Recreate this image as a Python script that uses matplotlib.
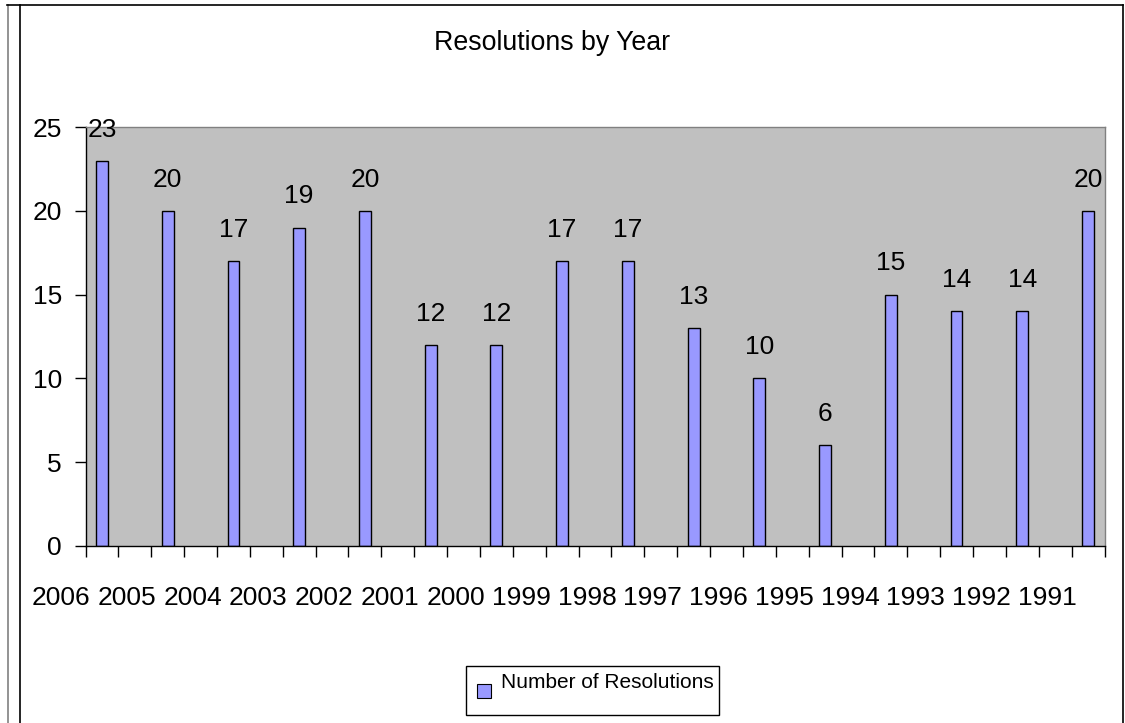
import matplotlib.pyplot as plt
from matplotlib.patches import Rectangle
from matplotlib.lines import Line2D
import matplotlib.transforms as mtransforms

plt.rcParams['font.family'] = ['Liberation Sans', 'DejaVu Sans']

# data (years run backwards, one empty slot between bars)
years = ['2006', '2005', '2004', '2003', '2002', '2001', '2000', '1999',
         '1998', '1997', '1996', '1995', '1994', '1993', '1992', '1991']
resolutions = [23, 20, 17, 19, 20, 12, 12, 17, 17, 13, 10, 6, 15, 14, 14, 20]
y_ticks = [0, 5, 10, 15, 20, 25]

bar_color = '#9999FF'
plot_bg = '#C0C0C0'

W, H = 1125, 723
fig = plt.figure(figsize=(W / 100, H / 100), dpi=100)
ax = fig.add_axes([85.5 / W, 1 - 545.7 / H, 1019 / W, 418.4 / H])
ax.set_facecolor(plot_bg)

n_slots = 2 * len(years) - 1
xpos = [2 * i for i in range(len(years))]
ax.bar(xpos, resolutions, width=0.36, color=bar_color, edgecolor='black', linewidth=1.0)

for x, v in zip(xpos, resolutions):
    ax.annotate(str(v), (x, v), xytext=(0, 22.5), textcoords='offset points',
                ha='center', va='center', fontsize=19)

ax.set_xlim(-0.5, n_slots - 0.5)
ax.set_ylim(0, 25)
ax.set_yticks(y_ticks)
ax.set_xticks([k - 0.5 for k in range(n_slots + 1)])
ax.set_xticklabels([])
ax.tick_params(axis='y', direction='out', length=8, width=1, labelsize=19, pad=9)
ax.tick_params(axis='x', direction='out', length=8, width=1)

# year labels sit shifted to the left of their bars
trans = mtransforms.blended_transform_factory(ax.transData, ax.transAxes)
for x, yr in zip(xpos, years):
    ax.text(x - 1.24, -0.125, yr, transform=trans, ha='center', va='center', fontsize=19)

for s in ['top', 'right']:
    ax.spines[s].set_color('#808080')
    ax.spines[s].set_linewidth(1)
for s in ['left', 'bottom']:
    ax.spines[s].set_color('black')
    ax.spines[s].set_linewidth(1)

fig.text(552 / W, 1 - 43 / H, 'Resolutions by Year', ha='center', va='center', fontsize=19.3)

# legend box drawn by hand
fig.patches.append(Rectangle((466 / W, 1 - 715 / H), 253 / W, 49 / H, transform=fig.transFigure,
                             facecolor='white', edgecolor='black', linewidth=1))
fig.patches.append(Rectangle((477 / W, 1 - 697.5 / H), 14 / W, 14 / H, transform=fig.transFigure,
                             facecolor=bar_color, edgecolor='black', linewidth=0.8))
fig.text(501 / W, 1 - 682 / H, 'Number of Resolutions', ha='left', va='center', fontsize=15)

# outer frame lines
fig.add_artist(Line2D([7.5 / W, 7.5 / W], [0, 1 - 4.5 / H], color='#808080', lw=1.2))
fig.add_artist(Line2D([19.5 / W, 19.5 / W], [0, 1 - 4.5 / H], color='black', lw=1.2))
fig.add_artist(Line2D([7 / W, 1122.5 / W], [1 - 4.5 / H, 1 - 4.5 / H], color='black', lw=1.2))
fig.add_artist(Line2D([1122.5 / W, 1122.5 / W], [0, 1 - 4.5 / H], color='black', lw=1.2))

fig.savefig('out.png', dpi=100)
